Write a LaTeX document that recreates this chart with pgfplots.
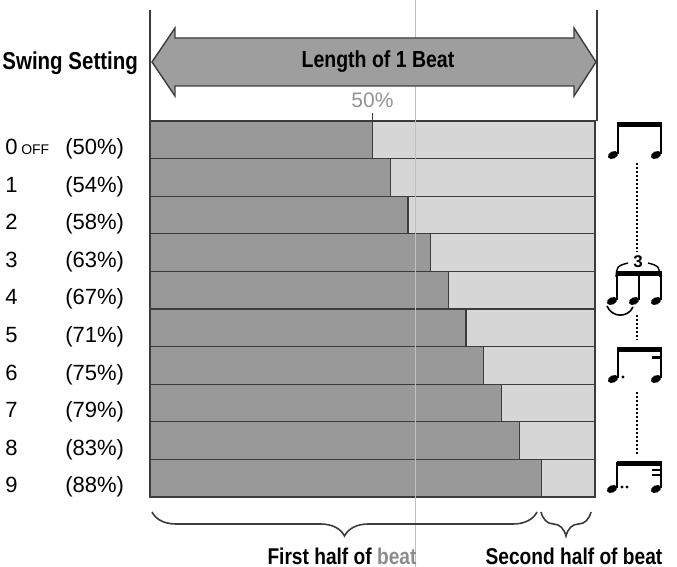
\documentclass[border=0pt]{standalone}
\usepackage{fontspec}
\setmainfont{Liberation Sans}
\newfontfamily\cond[FakeStretch=0.84]{Liberation Sans}
\usepackage{pgfplots}
\pgfplotsset{compat=1.18}
\usetikzlibrary{decorations.pathreplacing}
\definecolor{darkbar}{HTML}{999999}
\definecolor{lightbar}{HTML}{D6D6D6}
\definecolor{edge}{HTML}{3C3C3C}
\newcommand\nh[2]{\fill[rotate around={25:(#1,#2)}] (#1,#2) ellipse [x radius=2.7pt, y radius=1.8pt];}
\newcommand\lab[3]{\makebox[30pt][l]{#1\,{\scriptsize #2}}(#3\%)}
\begin{document}
\begin{tikzpicture}
\useasboundingbox (0,0) rectangle (338.5pt,-283.5pt);
\begin{axis}[
  at={(75pt,-60.5pt)}, anchor=north west,
  scale only axis, width=222.5pt, height=188pt,
  xbar stacked, bar width=1, bar shift=0pt,
  xmin=0, xmax=100, ymin=-0.5, ymax=9.5, y dir=reverse,
  axis line style={draw=none},
  xtick=\empty, ytick={0,...,9}, major tick length=0pt,
  yticklabels={\lab{0}{OFF}{50},\lab{1}{}{54},\lab{2}{}{58},\lab{3}{}{63},\lab{4}{}{67},\lab{5}{}{71},\lab{6}{}{75},\lab{7}{}{79},\lab{8}{}{83},\lab{9}{}{88}},
  yticklabel style={anchor=west, xshift=-72.5pt, yshift=-4.5pt, font=\fontsize{11}{13}\selectfont, inner sep=0pt},
  clip=false,
]
\addplot[fill=darkbar, draw=edge, line width=0.6pt] coordinates {(50,0) (54,1) (58,2) (63,3) (67,4) (71,5) (75,6) (79,7) (83,8) (88,9)};
\addplot[fill=lightbar, draw=edge, line width=0.6pt] coordinates {(50,0) (46,1) (42,2) (37,3) (33,4) (29,5) (25,6) (21,7) (17,8) (12,9)};
\draw[edge, line width=0.7pt] (axis cs:50,-0.5) -- ([yshift=4pt]axis cs:50,-0.5);
\node[anchor=south, text=gray!85, font=\fontsize{10.5}{12}\selectfont, inner sep=0pt] at (axis cs:50,-0.5) [yshift=6.5pt] {50\%};
\end{axis}
\begin{scope}[x=0.5pt,y=-0.5pt]
% faint scan line
\draw[black!25, line width=0.4pt] (415,0) -- (415,567);
% beat boundaries
\draw[edge, line width=0.6pt] (150,10) -- (150,121);
\draw[edge, line width=0.6pt] (597,10) -- (597,121);
% arrow
\draw[fill=darkbar!95, draw=edge, line width=0.7pt, line join=miter]
  (152,62) -- (175,28) -- (175,38) -- (574,38) -- (574,28) -- (596,62) -- (574,96) -- (574,86) -- (175,86) -- (175,96) -- cycle;
\node[font=\cond\bfseries\fontsize{11.6}{13}\selectfont] at (378,62) {Length of 1 Beat};
\node[font=\cond\bfseries\fontsize{12.2}{14}\selectfont, anchor=west, inner sep=0pt] at (2,63) {Swing Setting};
% braces
\draw[edge, line width=0.8pt, decorate, decoration={brace, mirror, amplitude=12pt}] (152,512) -- (537,512);
\draw[edge, line width=0.8pt, decorate, decoration={brace, mirror, amplitude=12pt}] (541,512) -- (591,512);
\node[font=\cond\bfseries\fontsize{11.4}{13}\selectfont] at (342,556) {First half of \textcolor{gray!90}{beat}};
\node[font=\cond\bfseries\fontsize{11.4}{13}\selectfont] at (574,556) {Second half of beat};
% notes row 0
\nh{613}{155}\nh{656}{155}
\draw[line width=0.8pt] (618,154) -- (618,123) (661,154) -- (661,123);
\fill (617,122) rectangle (662,127);
\draw[line width=1pt, dash pattern=on 1.2pt off 0.8pt] (637,163) -- (637,252);
% triplet row 4
\node[font=\bfseries\fontsize{8.5}{9}\selectfont, inner sep=0pt] at (638,262) {3};
\draw[line width=0.7pt] (616,277) .. controls (617,266) .. (628,263);
\draw[line width=0.7pt] (648,263) .. controls (659,266) .. (660,277);
\fill (617,271) rectangle (662,276);
\nh{612}{301}\nh{634}{301}\nh{656}{301}
\draw[line width=0.8pt] (617,300) -- (617,272) (639,300) -- (639,272) (661,300) -- (661,272);
\draw[line width=0.8pt] (607,306) .. controls (612,318) and (628,318) .. (633,307);
\draw[line width=1pt, dash pattern=on 1.2pt off 0.8pt] (637,315) -- (637,340);
% dotted row 6
\fill (617,347) rectangle (662,352);
\fill (652,356) rectangle (662,359);
\nh{613}{379}\nh{656}{379}
\draw[line width=0.8pt] (618,378) -- (618,348) (661,378) -- (661,348);
\fill (623,377) circle (0.8pt);
\draw[line width=1pt, dash pattern=on 1.2pt off 0.8pt] (637,392) -- (637,455);
% double dotted row 9
\fill (617,461) rectangle (662,466);
\fill (652,469) rectangle (662,471.5);
\fill (652,474) rectangle (662,476.5);
\nh{612}{489}\nh{656}{489}
\draw[line width=0.8pt] (617,488) -- (617,462) (661,488) -- (661,462);
\fill (622,487) circle (0.8pt);
\fill (627,487) circle (0.8pt);
\end{scope}
\end{tikzpicture}
\end{document}
